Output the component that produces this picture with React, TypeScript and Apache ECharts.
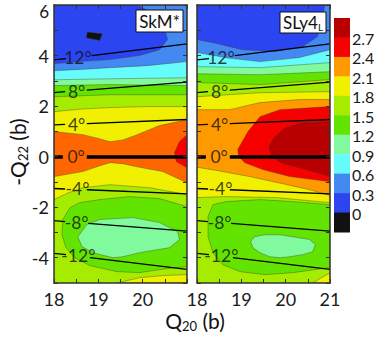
import React, { useEffect, useRef } from 'react';
import * as echarts from 'echarts';

const FONT = 'Lato, "Open Sans", sans-serif';

// colour bands: 0:<0, 1:0-0.3, 2:0.3-0.6, 3:0.6-0.9, 4:0.9-1.2, 5:1.2-1.5, 6:1.5-1.8, 7:1.8-2.1, 8:2.1-2.4, 9:2.4-2.7, 10:>2.7
const BAND_COLORS = ['#111111', '#2b45f0', '#4488f2', '#66fcfc', '#80fa9c', '#62e400', '#a6ec00', '#f0f000', '#ff9900', '#f70000', '#b80000'];
const SKM_ORANGE = '#ff6600';
const LEVEL_LABELS = ['2.7', '2.4', '2.1', '1.8', '1.5', '1.2', '0.9', '0.6', '0.3', '0'];

const X_MIN = 18, X_MAX = 21, Y_MIN = -5, Y_MAX = 6;

// ---- SkM* panel contours (Q20, -Q22) ----
const skmBlack = [[18.75, 4.93], [19.09, 4.86], [19.03, 4.6], [18.73, 4.7]];
const skmBlue = [[18, 6], [19.89, 6], [20.27, 5.62], [20.49, 5.1], [20.56, 4.63], [20.38, 4.23], [19.93, 4.0], [19.26, 3.84], [18.58, 3.76], [18, 3.68]];
const skmC06 = [[18, 3.4], [18.6, 3.45], [19.26, 3.52], [20.1, 3.6], [21, 3.76]];
const skmC09 = [[18, 3.04], [19.26, 3.08], [21, 3.12]];
const skmC12 = [[18, 2.81], [19.26, 2.85], [21, 2.81]];
const skmC15 = [[18, 2.37], [19.26, 2.45], [21, 2.45]];
const skmC18U = [[18, 1.78], [18.6, 1.88], [19.26, 1.94], [20.1, 1.98], [21, 1.98]];
const skmC21U = [[18, 0.99], [18.65, 0.87], [19.0, 0.72], [19.26, 0.59], [19.55, 0.66], [19.82, 0.83], [20.38, 1.23], [21, 1.46]];
const skmC21L = [[18, -0.79], [18.65, -0.59], [19.0, -0.38], [19.26, -0.24], [19.55, -0.28], [19.87, -0.4], [20.45, -0.59], [21, -1.03]];
const skmC18L = [[18, -1.7], [18.3, -1.45], [18.65, -1.23], [19.26, -1.11], [20.16, -1.23], [21, -1.5]];
const skmRed = [[21, 0.87], [20.83, 0.59], [20.72, 0.16], [20.76, -0.2], [21, -0.44]];
const skmGreen = [[21, -1.98], [20.38, -1.66], [19.71, -1.58], [19.03, -1.7], [18.58, -1.82], [18.36, -2.02], [18.2, -2.49], [18.18, -3.09], [18.27, -3.6], [18.47, -4.0], [18.81, -4.31], [19.42, -4.55], [19.93, -4.59], [20.38, -4.47], [21, -4.35]];
const skmIsland = [[18.54, -3.17], [18.74, -2.69], [19.03, -2.49], [19.78, -2.41], [20.38, -2.61], [20.79, -2.97], [20.83, -3.28], [20.61, -3.6], [19.93, -3.8], [19.55, -3.96], [19.33, -4.0], [18.88, -3.8], [18.63, -3.56]];
const skmYellowPatch = [[19.42, -5], [19.93, -4.79], [20.5, -4.7], [21, -4.67], [21, -5]];

// ---- SLy4L panel contours ----
const slyBlue = [[18, 6], [20.88, 6], [20.83, 5.42], [20.72, 4.75], [20.38, 4.35], [19.78, 4.16], [19.03, 4.23], [18.36, 4.51], [18, 4.63]];
const slyC06 = [[18, 4.12], [18.7, 3.9], [19.42, 3.76], [20.31, 3.92], [21, 4.23]];
const slyC09 = [[18, 3.56], [19.42, 3.52], [21, 3.72]];
const slyC12 = [[18, 3.28], [19.42, 3.24], [21, 3.36]];
const slyC15 = [[18, 2.93], [19.42, 2.85], [21, 3.05]];
const slyC18U = [[18, 2.37], [19.42, 2.53], [21, 2.57]];
const slyC21U = [[18, 1.86], [18.74, 1.86], [19.42, 2.14], [20.31, 2.26], [21, 2.26]];
const slyC21L = [[18, -0.42], [18.45, -0.55], [19.19, -0.79], [19.93, -1.07], [20.54, -1.31], [21, -1.54]];
const slyC18L = [[18, -1.62], [18.65, -1.58], [19.78, -1.62], [21, -1.82]];
const slyRed = [[21, 1.98], [19.87, 1.86], [19.42, 1.58], [19.15, 0.99], [18.92, 0.28], [18.94, 0], [19.08, -0.24], [19.48, -0.51], [20.09, -0.79], [21, -0.99]];
const slyDarkRed = [[21, 1.39], [20.38, 1.35], [20.0, 1.15], [19.75, 0.79], [19.62, 0.4], [19.69, 0], [19.93, -0.28], [20.31, -0.44], [21, -0.79]];
const slyGreen = [[21, -1.9], [20.16, -1.78], [19.42, -1.7], [18.65, -1.78], [18.36, -1.9], [18.25, -2.37], [18.25, -3.17], [18.36, -3.8], [18.58, -4.27], [18.97, -4.55], [19.55, -4.67], [20.16, -4.59], [21, -4.39]];
const slyIsland = [[19.21, -3.36], [19.3, -3.17], [19.53, -3.09], [19.87, -3.09], [20.16, -3.17], [20.54, -3.28], [20.67, -3.48], [20.61, -3.76], [20.38, -3.88], [20.09, -3.96], [19.87, -4.0], [19.64, -3.96], [19.42, -3.8], [19.26, -3.6]];
const slyYellowPatch = [[20.6, -5], [21, -4.6], [21, -5]];

// ---- gamma lines (segments) and labels ----
const GAMMA_THIN = [
  [[18, 3.83], [18.27, 3.88]], [[18.85, 4.0], [21, 4.46]],
  [[18, 2.53], [18.25, 2.57]], [[18.74, 2.63], [21, 2.95]],
  [[18, 1.26], [18.25, 1.28]], [[18.74, 1.31], [21, 1.47]],
  [[18, -1.26], [18.25, -1.28]], [[18.74, -1.31], [21, -1.47]],
  [[18, -2.53], [18.25, -2.57]], [[18.77, -2.64], [21, -2.95]],
  [[18, -3.83], [18.27, -3.88]], [[18.81, -4.0], [21, -4.46]],
];
const GAMMA_ZERO = [[[18, 0], [18.2, 0]], [[18.74, 0], [21, 0]]];
const ANGLE_LABELS = ['12°', '8°', '4°', '0°', '-4°', '-8°', '-12°'];
const ANGLE_LABEL_POS = [[18.54, 3.92], [18.51, 2.58], [18.51, 1.28], [18.5, 0], [18.53, -1.28], [18.51, -2.6], [18.55, -3.93]];

const topBand = (c: number[][]) => [[X_MIN, Y_MAX], [X_MAX, Y_MAX], ...c.slice().reverse()];
const between = (u: number[][], l: number[][]) => [...u, ...l.slice().reverse()];
const FULL = [[X_MIN, Y_MIN], [X_MAX, Y_MIN], [X_MAX, Y_MAX], [X_MIN, Y_MAX]];

type Region = { band: number; pts: number[][]; edge: boolean };

const skmRegions: Region[] = [
  { band: 6, pts: FULL, edge: false },
  { band: 5, pts: topBand(skmC15), edge: true },
  { band: 4, pts: topBand(skmC12), edge: true },
  { band: 3, pts: topBand(skmC09), edge: true },
  { band: 2, pts: topBand(skmC06), edge: true },
  { band: 1, pts: skmBlue, edge: true },
  { band: 0, pts: skmBlack, edge: true },
  { band: 7, pts: between(skmC18U, skmC18L), edge: true },
  { band: 8, pts: between(skmC21U, skmC21L), edge: true },
  { band: 9, pts: skmRed, edge: true },
  { band: 5, pts: skmGreen, edge: true },
  { band: 4, pts: skmIsland, edge: true },
  { band: 7, pts: skmYellowPatch, edge: true },
];

const slyRegions: Region[] = [
  { band: 6, pts: FULL, edge: false },
  { band: 5, pts: topBand(slyC15), edge: true },
  { band: 4, pts: topBand(slyC12), edge: true },
  { band: 3, pts: topBand(slyC09), edge: true },
  { band: 2, pts: topBand(slyC06), edge: true },
  { band: 1, pts: slyBlue, edge: true },
  { band: 7, pts: between(slyC18U, slyC18L), edge: true },
  { band: 8, pts: between(slyC21U, slyC21L), edge: true },
  { band: 9, pts: slyRed, edge: true },
  { band: 10, pts: slyDarkRed, edge: true },
  { band: 5, pts: slyGreen, edge: true },
  { band: 4, pts: slyIsland, edge: true },
  { band: 7, pts: slyYellowPatch, edge: true },
];

const GRID_TOP = 5, GRID_H = 278, GRID_W = 133;
const PANELS = [
  { left: 54, regions: skmRegions, orange: SKM_ORANGE },
  { left: 197, regions: slyRegions, orange: BAND_COLORS[8] },
];

const axisLineStyle = { show: true, onZero: false, lineStyle: { color: '#333', width: 1.5 } };

export default function App() {
  const ref = useRef<HTMLDivElement>(null);
  useEffect(() => {
    if (!ref.current) return;
    const chart = echarts.init(ref.current, undefined, { renderer: 'svg' });
    const grids: any[] = [];
    const xAxes: any[] = [];
    const yAxes: any[] = [];
    const series: any[] = [];
    PANELS.forEach((p, pi) => {
      grids.push({ left: p.left, top: GRID_TOP, width: GRID_W, height: GRID_H, containLabel: false });
      ['bottom', 'top'].forEach((pos) => {
        xAxes.push({
          type: 'value', gridIndex: pi, position: pos, min: X_MIN, max: X_MAX, interval: 0.5, z: 6,
          axisLine: axisLineStyle,
          axisTick: { show: true, inside: true, length: 4, lineStyle: { color: '#333', width: 1 } },
          splitLine: { show: false },
          axisLabel: {
            show: pos === 'bottom', margin: 7, fontSize: 18, color: '#1a1a1a', fontFamily: FONT,
            formatter: (v: number) => (Number.isInteger(v) && (pi === 1 || v < 21) ? String(v) : ''),
          },
        });
      });
      ['left', 'right'].forEach((pos) => {
        yAxes.push({
          type: 'value', gridIndex: pi, position: pos, min: Y_MIN, max: Y_MAX, interval: 1, z: 6,
          axisLine: axisLineStyle,
          axisTick: { show: true, inside: true, length: 4, lineStyle: { color: '#333', width: 1 } },
          splitLine: { show: false },
          axisLabel: {
            show: pi === 0 && pos === 'left', margin: 5, fontSize: 18, color: '#1a1a1a', fontFamily: FONT,
            // the top label (6) is drawn as a graphic text slightly lowered so it is not clipped
            formatter: (v: number) => (v !== Y_MAX && v % 2 === 0 ? String(v) : ''),
          },
        });
      });
      const regions = p.regions;
      series.push({
        type: 'custom', coordinateSystem: 'cartesian2d', xAxisIndex: pi * 2, yAxisIndex: pi * 2,
        clip: true, silent: true, z: 1,
        data: regions.map((r, i) => [r.pts[0][0], r.pts[0][1], i]),
        renderItem: (params: any, api: any) => {
          const r = regions[params.dataIndex];
          const pts = r.pts.map((pt) => api.coord(pt));
          const fill = r.band === 8 ? p.orange : BAND_COLORS[r.band];
          return {
            type: 'polygon',
            shape: { points: pts },
            style: { fill, stroke: r.edge ? 'rgba(60,60,40,0.55)' : 'none', lineWidth: 0.7 },
          };
        },
      });
      series.push({
        type: 'lines', coordinateSystem: 'cartesian2d', xAxisIndex: pi * 2, yAxisIndex: pi * 2, z: 3, silent: true,
        data: GAMMA_THIN.map((c) => ({ coords: c })),
        lineStyle: { color: '#000', width: 1.3, opacity: 1 },
      });
      series.push({
        type: 'lines', coordinateSystem: 'cartesian2d', xAxisIndex: pi * 2, yAxisIndex: pi * 2, z: 3, silent: true,
        data: GAMMA_ZERO.map((c) => ({ coords: c })),
        lineStyle: { color: '#000', width: 3.5, opacity: 1 },
      });
      series.push({
        type: 'scatter', xAxisIndex: pi * 2, yAxisIndex: pi * 2, z: 4, silent: true,
        symbolSize: 1, itemStyle: { color: 'rgba(0,0,0,0)' },
        data: ANGLE_LABELS.map((n, i) => ({ name: n, value: ANGLE_LABEL_POS[i] })),
        label: { show: true, position: 'inside', formatter: '{b}', fontSize: 17.5, color: '#111', fontFamily: FONT },
      });
    });

    const cbX = 334, cbY = 18, cbW = 16, cbH = 214;
    const boxH = cbH / 11;
    const graphic: any[] = [];
    for (let i = 0; i < 11; i++) {
      graphic.push({
        type: 'rect', z: 50, shape: { x: cbX, y: cbY + i * boxH, width: cbW, height: boxH + 0.5 },
        style: { fill: BAND_COLORS[10 - i] },
      });
    }
    LEVEL_LABELS.forEach((t, i) => {
      graphic.push({
        type: 'text', z: 50, x: 352, y: cbY + (i + 1) * boxH + 1,
        style: { text: t, fontSize: 16, fontFamily: FONT, fill: '#1a1a1a', align: 'left', verticalAlign: 'middle' },
      });
    });
    // top y tick label
    graphic.push({
      type: 'text', z: 61, x: 49, y: 11,
      style: { text: String(Y_MAX), fontSize: 17, fontFamily: FONT, fill: '#1a1a1a', align: 'right', verticalAlign: 'middle' },
    });
    // panel name boxes
    graphic.push({ type: 'rect', z: 60, shape: { x: 136, y: 10, width: 47, height: 22 }, style: { fill: '#fff', stroke: '#111', lineWidth: 1 } });
    graphic.push({ type: 'text', z: 61, x: 159.5, y: 21, style: { text: 'SkM*', fontSize: 17, fontFamily: FONT, fill: '#111', align: 'center', verticalAlign: 'middle' } });
    graphic.push({ type: 'rect', z: 60, shape: { x: 280, y: 12, width: 46, height: 21 }, style: { fill: '#fff', stroke: '#111', lineWidth: 1 } });
    graphic.push({
      type: 'text', z: 61, x: 303, y: 22,
      style: {
        text: '{a|SLy4}{s|L}', align: 'center', verticalAlign: 'middle',
        rich: {
          a: { fontSize: 17, fontFamily: FONT, fill: '#111', lineHeight: 20 },
          s: { fontSize: 10, fontFamily: FONT, fill: '#111', lineHeight: 11, verticalAlign: 'bottom' },
        },
      },
    });
    // axis titles
    graphic.push({
      type: 'text', z: 61, x: 195, y: 320,
      style: {
        text: '{a|Q}{s|20}{a| (b)}', align: 'center', verticalAlign: 'middle',
        rich: {
          a: { fontSize: 21, fontFamily: FONT, fill: '#111', lineHeight: 24 },
          s: { fontSize: 13, fontFamily: FONT, fill: '#111', lineHeight: 13, verticalAlign: 'bottom' },
        },
      },
    });
    graphic.push({
      type: 'text', z: 61, x: 17, y: 152, rotation: Math.PI / 2,
      style: {
        text: '{a|-Q}{s|22}{a| (b)}', align: 'center', verticalAlign: 'middle',
        rich: {
          a: { fontSize: 21, fontFamily: FONT, fill: '#111', lineHeight: 24 },
          s: { fontSize: 13, fontFamily: FONT, fill: '#111', lineHeight: 13, verticalAlign: 'bottom' },
        },
      },
    });

    chart.setOption({
      animation: false,
      backgroundColor: '#ffffff',
      grid: grids,
      xAxis: xAxes,
      yAxis: yAxes,
      series,
      graphic,
    });
    return () => chart.dispose();
  }, []);
  return <div ref={ref} style={{ position: 'absolute', left: 0, top: 0, width: 374, height: 343 }} />;
}
